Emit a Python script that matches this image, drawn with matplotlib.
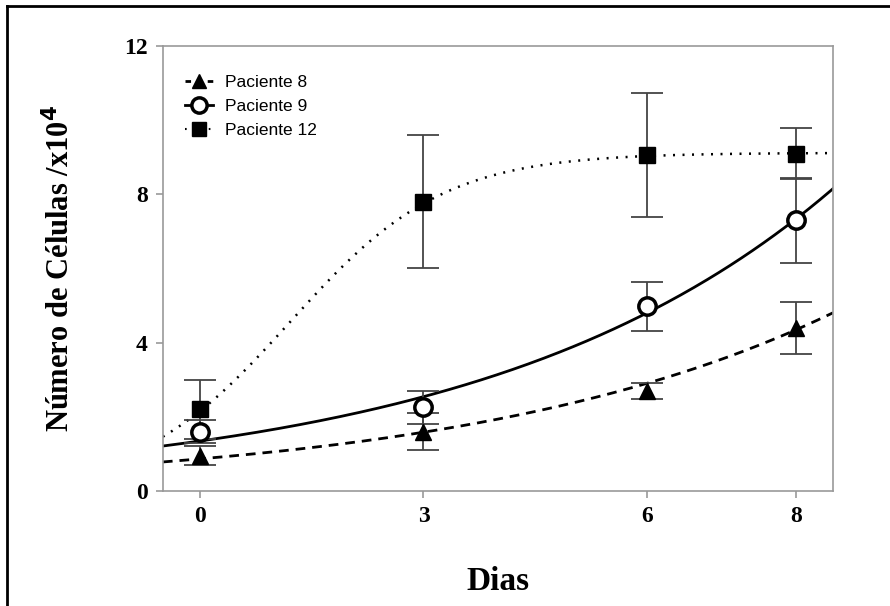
import matplotlib.pyplot as plt
import numpy as np
from matplotlib.lines import Line2D

# days of culture
dias = [0, 3, 6, 8]

# mean cell counts (x10^4) and error bars
paciente8 = [0.95, 1.6, 2.7, 4.4]
paciente8_err = [0.25, 0.5, 0.22, 0.7]
paciente9 = [1.6, 2.25, 4.98, 7.3]
paciente9_err = [0.3, 0.45, 0.66, 1.15]
paciente12 = [2.2, 7.8, 9.06, 9.1]
paciente12_err = [0.8, 1.8, 1.68, 0.7]

# fitted curves shown in the figure
fit8 = [0.863, 0.202]          # exponential: a * exp(b * t)
fit9 = [1.345, 0.212]          # exponential: a * exp(b * t)
fit12 = [9.12, 0.969, 1.21]    # logistic: top / (1 + exp(-k * (t - t0)))

labels = ["Paciente 8", "Paciente 9", "Paciente 12"]


def main():
    fig = plt.figure(figsize=(8.9, 6.06), dpi=100)
    ax = fig.add_axes([0.183, 0.19, 0.753, 0.734])

    t = np.linspace(-0.5, 8.5, 300)
    ax.plot(t, fit8[0] * np.exp(fit8[1] * t), color="black", lw=2, ls=(0, (3.5, 2.5)))
    ax.plot(t, fit9[0] * np.exp(fit9[1] * t), color="black", lw=2, ls="-")
    ax.plot(t, fit12[0] / (1 + np.exp(-fit12[1] * (t - fit12[2]))),
            color="black", lw=1.8, ls=(0, (0.8, 3.0)))

    # error bars first, markers on top
    err_style = dict(fmt="none", ecolor="#444444", elinewidth=1.3, capsize=11.5, capthick=1.3)
    for vals, errs in [(paciente12, paciente12_err), (paciente9, paciente9_err), (paciente8, paciente8_err)]:
        ax.errorbar(dias, vals, yerr=errs, zorder=2, **err_style)

    ax.plot(dias, paciente12, "s", ms=11.5, mfc="black", mec="black", zorder=3)
    ax.plot(dias, paciente9, "o", ms=12.5, mfc="white", mec="black", mew=2.5, zorder=4)
    ax.plot(dias, paciente8, "^", ms=11.5, mfc="black", mec="black", zorder=5)

    ax.set_xlim(-0.5, 8.5)
    ax.set_ylim(0, 12)
    ax.set_xticks(dias)
    ax.set_yticks([0, 4, 8, 12])
    for s in ax.spines.values():
        s.set_color("#999999")
        s.set_linewidth(1.2)
    ax.tick_params(colors="#999999", length=5, width=1.2, labelcolor="black", pad=6)
    for lab in ax.get_xticklabels() + ax.get_yticklabels():
        lab.set_fontfamily("Liberation Serif")
        lab.set_fontweight("bold")
        lab.set_fontsize(17)

    ax.set_xlabel("Dias", fontfamily="Liberation Serif", fontweight="bold",
                  fontsize=24, labelpad=28)
    ax.set_ylabel("Número de Células /x10$^{\\mathbf{4}}$", fontfamily="Liberation Serif",
                  fontweight="bold", fontsize=22, labelpad=34)

    handles = [
        Line2D([0], [0], color="black", lw=2, ls=(0, (2, 2)), marker="^", ms=10, mfc="black", mec="black"),
        Line2D([0], [0], color="black", lw=2, ls="-", marker="o", ms=11, mfc="white", mec="black", mew=2.5),
        Line2D([0], [0], color="black", lw=1.5, ls=(0, (0.8, 3)), marker="s", ms=10, mfc="black", mec="black"),
    ]
    ax.legend(handles, labels, loc="upper left", bbox_to_anchor=(0.0, 0.985), frameon=False,
              prop={"family": "Liberation Sans", "size": 12.5}, handlelength=1.6,
              handletextpad=0.7, labelspacing=0.5, borderaxespad=0.9)

    # outer frame of the original panel
    fig.add_artist(Line2D([0.008, 0.008], [0.0, 0.99], color="black", lw=2, transform=fig.transFigure))
    fig.add_artist(Line2D([0.008, 1.0], [0.99, 0.99], color="black", lw=2, transform=fig.transFigure))

    fig.savefig("out.png", dpi=100, facecolor="white")


if __name__ == "__main__":
    main()
